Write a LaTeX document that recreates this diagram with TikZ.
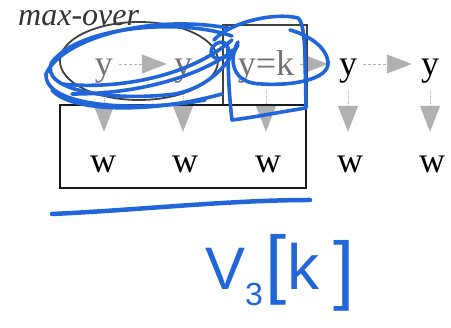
\documentclass[tikz,border=0pt]{standalone}
\usepackage{fontspec}
\setmainfont{Liberation Serif}
\newfontfamily\handfont{Liberation Sans}
\usetikzlibrary{arrows.meta}
\definecolor{pen}{RGB}{33,102,217}
\definecolor{arrgray}{RGB}{176,176,176}
\definecolor{boxgray}{RGB}{64,64,64}
\tikzset{
  lbl/.style={font=\fontsize{36}{36}\selectfont, inner xsep=6pt, inner ysep=3pt,
    text height=30pt, text depth=6pt, anchor=base},
  gy/.style={lbl, text=black!55},
  harrow/.style={draw=arrgray, line width=0.9pt, densely dashed,
    -{Triangle[length=25pt,width=19pt,fill=arrgray]}},
  varrow/.style={draw=arrgray, line width=0.9pt, densely dotted,
    -{Triangle[length=26pt,width=20pt,fill=arrgray]}},
  ink/.style={draw=pen, line width=3.6pt, line cap=round, line join=round},
}
\begin{document}
\begin{tikzpicture}[x=1pt,y=-1pt]
\useasboundingbox (0,0) rectangle (451,328);
% title
\node[font=\fontsize{32}{32}\selectfont\itshape, text=black!80, anchor=base west, inner sep=0pt] (title) at (18,26) {max-over};
% y row
\node[gy] (y1) at (104,76) {y};
\node[gy] (y2) at (183,76) {y};
\node[gy] (y3) at (266,76) {y=k};
\node[lbl] (y4) at (348,76) {y};
\node[lbl] (y5) at (430,76) {y};
% w row
\node[lbl] (w1) at (103,173) {w};
\node[lbl] (w2) at (185,173) {w};
\node[lbl] (w3) at (268,173) {w};
\node[lbl] (w4) at (350,173) {w};
\node[lbl] (w5) at (432,173) {w};
% horizontal arrows
\draw[harrow, shorten >=1pt] (y1) -- (y2);
\draw[harrow, shorten >=5pt] (y3) -- (y4);
\draw[harrow, shorten >=3pt] (y4) -- (y5);
% vertical arrows
\foreach \i in {1,...,5}{
  \draw[varrow, shorten <=5pt, shorten >=8pt] (y\i.south) -- (y\i.south |- w\i.north);
}
% ellipse and boxes
\draw[boxgray, line width=1.8pt] (139,61) ellipse [x radius=79, y radius=39];
\draw[boxgray, line width=1.8pt] (223,25) rectangle (307,105);
\draw[black!90, line width=1.8pt] (60,105) rectangle (306,188);
% blue ink around ellipse
\draw[ink] (232,36) .. controls (180,18) and (80,26) .. (52,62)
  .. controls (38,90) and (110,102) .. (175,94)
  .. controls (205,88) and (225,70) .. (238,45);
\draw[ink] (228,28) .. controls (150,14) and (62,38) .. (46,74)
  .. controls (44,108) and (140,112) .. (205,100);
\draw[ink] (62,84) .. controls (120,90) and (190,76) .. (232,40);
\draw[ink] (72,94) .. controls (140,94) and (200,76) .. (234,50);
\draw[ink] (52,90) .. controls (70,112) and (150,114) .. (222,94);
% blue ink around y=k
\draw[ink] (214,40) .. controls (230,22) and (275,12) .. (298,18)
  .. controls (306,24) and (305,60) .. (306,108)
  .. controls (280,112) and (250,118) .. (232,120)
  .. controls (229,95) and (228,70) .. (228,48)
  .. controls (226,38) and (212,42) .. (211,52)
  .. controls (212,62) and (228,60) .. (232,50);
\draw[ink] (238,42) .. controls (228,60) and (232,84) .. (262,84)
  .. controls (290,86) and (330,80) .. (328,62)
  .. controls (326,45) and (305,34) .. (290,30);
% underline
\draw[ink, line width=4.5pt] (52,214) .. controls (140,210) and (230,200) .. (310,200);
% handwritten label
\node[text=pen, font=\handfont\fontsize{60}{60}\selectfont, anchor=base west, inner sep=0pt] (lbl) at (205,290)
  {V\kern0pt{\fontsize{32}{32}\selectfont\raisebox{-16pt}{3}}\kern2pt{\fontsize{76}{76}\selectfont[}\kern1pt{\fontsize{64}{64}\selectfont k}\kern14pt{\fontsize{76}{76}\selectfont\raisebox{-6pt}{]}}};
\end{tikzpicture}
\end{document}
